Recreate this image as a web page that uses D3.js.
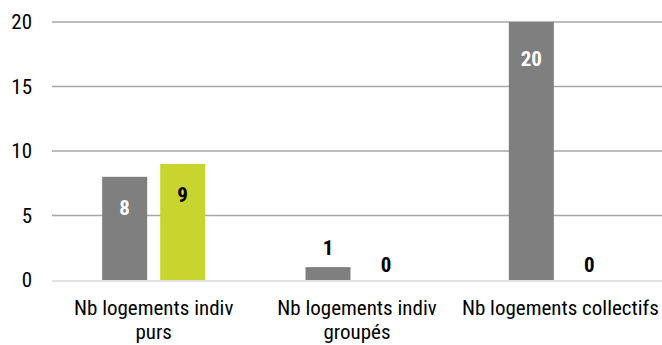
<!DOCTYPE html>
<html><head><meta charset="utf-8">
<script src="https://cdn.jsdelivr.net/npm/d3@7"></script>
<style>
body{margin:0;background:#fff;}
svg{display:block;}
text{font-family:"Roboto Condensed","Roboto",sans-serif;}
</style></head>
<body><svg id="c" width="662" height="345"></svg>
<script>
const categories = [["Nb logements indiv","purs"],["Nb logements indiv","groupés"],["Nb logements collectifs"]];
const series1 = [8, 1, 20];
const series2 = [9, 0, 0];
const yTicks = [0, 5, 10, 15, 20];
const colors = ["#7f7f7f", "#c8d52f"];
const labelColors = ["#ffffff", "#000000"];

const W = 662, H = 345;
const m = {left: 52, right: 0, top: 22, bottom: 65};
const svg = d3.select("#c");
const x = d3.scaleBand().domain(d3.range(categories.length)).range([m.left, W - m.right]);
const y = d3.scaleLinear().domain([0, 20]).range([H - m.bottom - 0, m.top]);

// gridlines
svg.append("g").selectAll("line").data(yTicks.filter(t => t > 0)).join("line")
  .attr("x1", m.left).attr("x2", W).attr("y1", d => y(d)).attr("y2", d => y(d))
  .attr("stroke", "#a6a6a6").attr("stroke-width", 1.5);
svg.append("line").attr("x1", m.left).attr("x2", W).attr("y1", y(0)+1).attr("y2", y(0)+1)
  .attr("stroke", "#d9d9d9").attr("stroke-width", 1.5);

// y axis labels
const yAxis = d3.axisLeft(y).tickValues(yTicks).tickSize(0).tickPadding(20);
const ga = svg.append("g").attr("transform", `translate(${m.left},0)`).call(yAxis);
ga.select(".domain").remove();
ga.selectAll("text").attr("font-size", 21).attr("fill", "#000")
  .style("font-family", '"Roboto Condensed","Roboto",sans-serif');

const bw = 45, gap = 13;
const seriesList = [series1, series2];
seriesList.forEach((s, si) => {
  const g = svg.append("g");
  const xpos = i => x(i) + x.bandwidth()/2 - (bw*2+gap)/2 + si*(bw+gap);
  g.selectAll("rect").data(s).join("rect")
    .attr("x", (d,i) => xpos(i)).attr("width", bw)
    .attr("y", d => y(d)).attr("height", d => y(0) - y(d))
    .attr("fill", colors[si]);
  g.selectAll("text").data(s).join("text")
    .attr("text-anchor", "middle")
    .attr("font-weight", "bold").attr("font-size", 21)
    .attr("transform", (d,i) => {
      const cx = xpos(i) + bw/2;
      let by;
      if (d >= 3) by = y(d) + 34 + d*0.5;
      else if (d > 0) by = y(d) - 12.5;
      else by = y(0) - 8.5;
      return `translate(${cx},${by})`;
    })
    .attr("fill", d => d >= 3 ? labelColors[si] : "#000")
    .text(d => d);
});

// category labels
const cg = svg.append("g");
categories.forEach((lines, i) => {
  lines.forEach((l, li) => {
    cg.append("text").attr("text-anchor", "middle").attr("font-size", 21).attr("fill", "#000")
      .attr("transform", `translate(${x(i)+x.bandwidth()/2},${314.5 + li*24})`)
      .text(l);
  });
});
</script></body></html>
